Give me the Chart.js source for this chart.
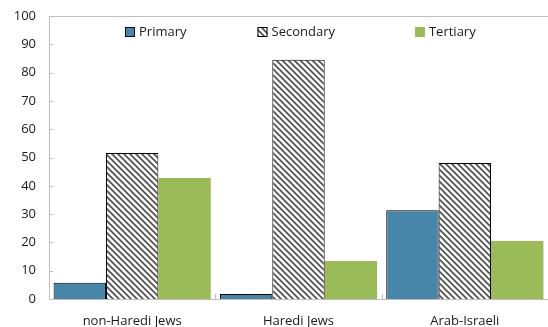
<!DOCTYPE html>
<html>
<head>
<meta charset="utf-8">
<script src="https://cdn.jsdelivr.net/npm/chart.js@4.4.0/dist/chart.umd.min.js"></script>
<style>
  html, body { margin: 0; padding: 0; background: #fff; }
  #eduChart { display: block; }
</style>
</head>
<body>
<canvas id="eduChart" width="548" height="327"></canvas>
<script>
// chart data
const groups = ["non-Haredi Jews", "Haredi Jews", "Arab-Israeli"];
const primaryVals = [5.7, 1.8, 31.4];
const secondaryVals = [51.6, 84.5, 48.1];
const tertiaryVals = [42.8, 13.4, 20.5];
const yTicks = [0, 10, 20, 30, 40, 50, 60, 70, 80, 90, 100];

const FONT = "'Open Sans', 'Noto Sans', sans-serif";
const AXIS_GREY = "#bfbfbf";
const TEXT = "#1a1a1a";

// diagonal hatch for the Secondary bars
function makeHatch() {
  const c = document.createElement("canvas");
  c.width = 6; c.height = 6;
  const g = c.getContext("2d");
  g.fillStyle = "#ffffff";
  g.fillRect(0, 0, 6, 6);
  g.strokeStyle = "#4d4d4d";
  g.lineWidth = 1.6;
  g.beginPath();
  g.moveTo(-1, -1); g.lineTo(7, 7);
  g.moveTo(-4, 2); g.lineTo(4, 10);
  g.moveTo(2, -4); g.lineTo(10, 4);
  g.stroke();
  return g.createPattern(c, "repeat");
}
const hatch = makeHatch();

// inner tick marks + top frame line
const frameTicks = {
  id: "frameTicks",
  afterDatasetsDraw(chart) {
    const ctx = chart.ctx;
    const area = chart.chartArea;
    const y = chart.scales.y;
    const x = chart.scales.x;
    ctx.save();
    ctx.strokeStyle = AXIS_GREY;
    ctx.lineWidth = 1;
    ctx.beginPath();
    ctx.moveTo(area.left, area.top + 0.5);
    ctx.lineTo(area.right, area.top + 0.5);
    yTicks.forEach((v) => {
      const py = Math.round(y.getPixelForValue(v)) + 0.5;
      ctx.moveTo(area.left, py);
      ctx.lineTo(area.left + 4, py);
    });
    for (let i = 1; i < groups.length; i++) {
      const px = Math.round((x.getPixelForValue(i - 1) + x.getPixelForValue(i)) / 2) + 0.5;
      ctx.moveTo(px, area.bottom);
      ctx.lineTo(px, area.bottom - 5);
    }
    ctx.stroke();
    ctx.restore();
  }
};

// legend drawn inside the plot area
const innerLegend = {
  id: "innerLegend",
  afterDraw(chart) {
    const ctx = chart.ctx;
    const area = chart.chartArea;
    const sets = chart.data.datasets;
    ctx.save();
    ctx.font = "13px " + FONT;
    ctx.textBaseline = "middle";
    const box = 10, gapText = 4;
    const gaps = [71, 80];
    let x = area.left + 76;
    const cy = area.top + 16;
    sets.forEach((d, i) => {
      ctx.fillStyle = d.backgroundColor;
      ctx.fillRect(x, cy - 5, box, box);
      if (d.borderWidth) {
        ctx.strokeStyle = "#000";
        ctx.lineWidth = 1;
        ctx.strokeRect(x + 0.5, cy - 4.5, box - 1, box - 1);
      }
      ctx.fillStyle = TEXT;
      ctx.fillText(d.label, x + box + gapText, cy);
      x += box + gapText + ctx.measureText(d.label).width + (gaps[i] || 0);
    });
    ctx.restore();
  }
};

new Chart(document.getElementById("eduChart").getContext("2d"), {
  type: "bar",
  data: {
    labels: groups,
    datasets: [
      { label: "Primary", data: primaryVals, backgroundColor: "#4786a9", borderColor: "#000", borderWidth: 1 },
      { label: "Secondary", data: secondaryVals, backgroundColor: hatch, borderColor: "#000", borderWidth: 1 },
      { label: "Tertiary", data: tertiaryVals, backgroundColor: "#9bbb59", borderWidth: 0 }
    ]
  },
  options: {
    responsive: false,
    animation: false,
    maintainAspectRatio: false,
    layout: { padding: { top: 16, right: 0, left: 0, bottom: 0 } },
    categoryPercentage: 0.945,
    barPercentage: 1.0,
    plugins: {
      legend: { display: false },
      tooltip: { enabled: false }
    },
    scales: {
      x: {
        grid: { display: false, drawTicks: false },
        border: { color: AXIS_GREY, width: 1 },
        ticks: { color: TEXT, font: { family: FONT, size: 13 }, padding: 14, maxRotation: 0 },
        afterFit: (s) => { s.height = 28; s.paddingLeft = 0; s.paddingRight = 0; }
      },
      y: {
        min: 0,
        max: 100,
        afterBuildTicks: (s) => { s.ticks = yTicks.map((v) => ({ value: v })); },
        grid: { display: false, drawTicks: false },
        border: { color: AXIS_GREY, width: 1 },
        ticks: { color: TEXT, font: { family: FONT, size: 13 }, padding: 13 },
        afterFit: (s) => { s.width = 49; s.paddingTop = 0; s.paddingBottom = 0; }
      }
    }
  },
  plugins: [frameTicks, innerLegend]
});
</script>
</body>
</html>
